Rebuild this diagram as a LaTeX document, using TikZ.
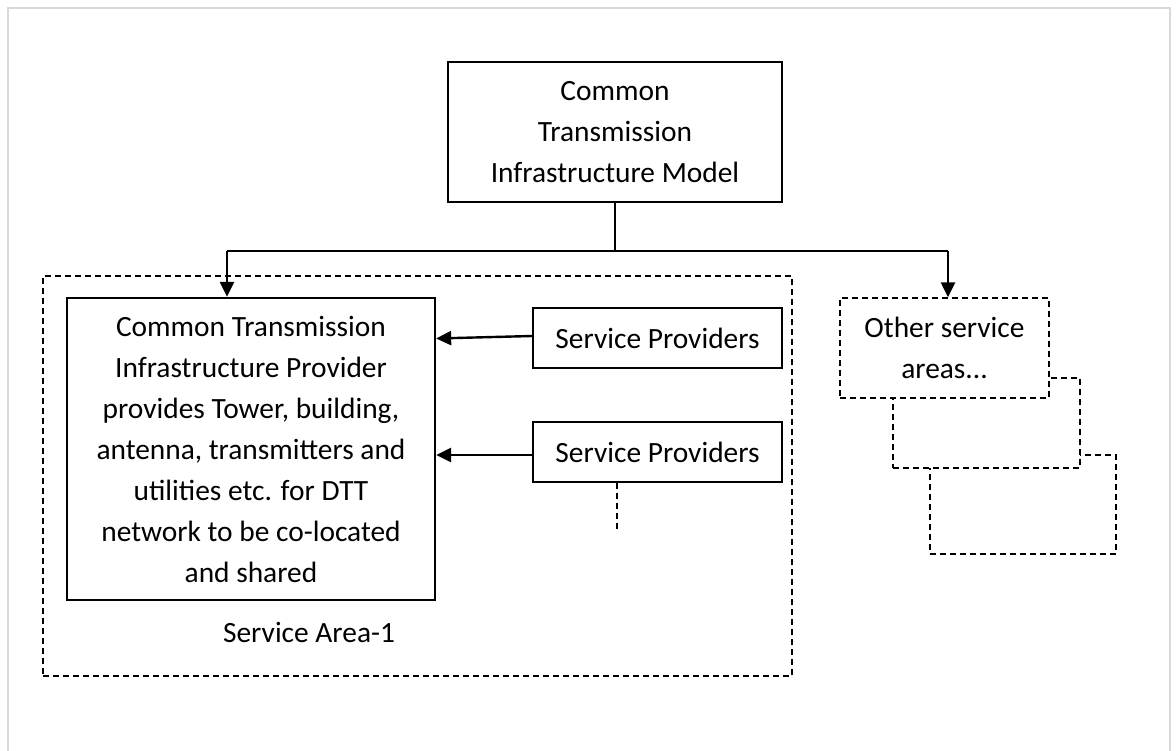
\documentclass[tikz,border=0pt]{standalone}
\usepackage{fontspec}
\setmainfont{Carlito}
\usetikzlibrary{arrows.meta}
\definecolor{framegray}{RGB}{217,217,217}
\begin{document}
\begin{tikzpicture}[x=1pt,y=-1pt,
  txt/.style={font=\fontsize{29.4}{41}\selectfont, align=center, inner sep=0pt},
  solidbox/.style={draw, line width=2.3pt, fill=white, txt},
  spbox/.style={draw, line width=1.4pt, fill=white, txt},
  dashline/.style={line width=1.4pt, dash pattern=on 6pt off 4pt},
  dashbox/.style={draw, dashline, fill=white, txt},
  conn/.style={line width=1.2pt},
  arr/.style={line width=2.4pt, -{Triangle[length=15pt,width=14pt]}},
]
\useasboundingbox (0,0) rectangle (1176,751);
\fill[white] (0,0) rectangle (1176,751);
\draw[line width=2pt, framegray] (8,751) -- (8,8) -- (1170,8) -- (1170,751);

% service area
\node[draw, dashline, minimum width=749pt, minimum height=400pt, inner sep=0pt] (area) at (417.5,476) {};
\node[txt] (arealabel) at (309,632) {Service Area-1};

% boxes
\node[solidbox, minimum width=334pt, minimum height=140pt] (top) at (615,132)
  {Common\\Transmission\\Infrastructure Model};
\node[solidbox, minimum width=368pt, minimum height=302pt] (main) at (251,449)
  {Common Transmission\\Infrastructure Provider\\provides Tower, building,\\antenna, transmitters and\\utilities etc. for DTT\\network to be co-located\\and shared};
\node[spbox, minimum width=249pt, minimum height=60pt] (sp1) at (657.5,338) {Service Providers};
\node[spbox, minimum width=249pt, minimum height=60pt] (sp2) at (657.5,452) {Service Providers};

% other service areas (stacked)
\node[dashbox, minimum width=186pt, minimum height=99pt] (other3) at (1023,504.5) {};
\node[dashbox, minimum width=187pt, minimum height=90pt] (other2) at (986.5,423) {};
\node[dashbox, minimum width=209pt, minimum height=100pt] (other) at (944.5,348) {Other service\\areas...};

% connectors
\coordinate (jl) at (227,251);
\coordinate (jr) at (948,251);
\draw[conn] (top.south) -- (top.south |- jl);
\draw[conn] (jl) -- (jr);
\draw[arr] (jl) -- (jl |- main.north);
\draw[arr] (jr) -- (jr |- other.north);
\draw[arr] ([yshift=2pt]sp1.west) -- ([yshift=-0.5pt]sp1.west -| main.east);
\draw[arr] ([yshift=-3pt]sp2.west) -- ([yshift=-3pt]sp2.west -| main.east);

\coordinate (stub) at (617,532);
\draw[dashline] (sp2.south -| stub) -- (stub);
\end{tikzpicture}
\end{document}
